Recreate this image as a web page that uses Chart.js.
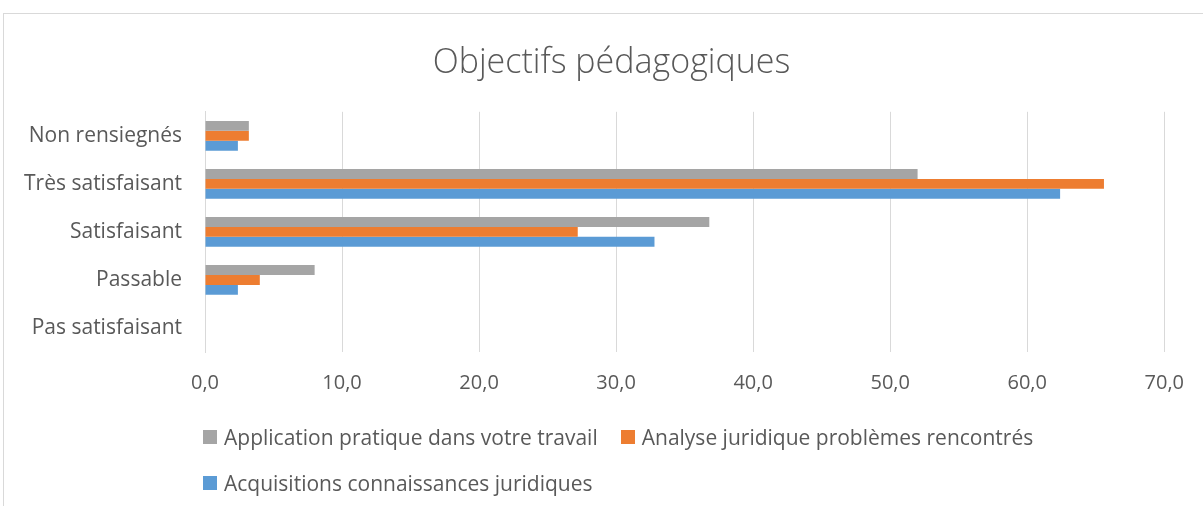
<!DOCTYPE html>
<html>

<head>
    <title>Objectifs pédagogiques</title>
    <meta charset="utf-8">
    <script src="https://cdn.jsdelivr.net/npm/chart.js@4/dist/chart.umd.min.js"></script>
    <style>
        body { margin: 0; background: #fff; font-family: "Open Sans", sans-serif; }
        #frame { position: absolute; left: 3px; top: 13px; width: 1240px; height: 540px; border: 1px solid #d9d9d9; }
        #wrap { position: absolute; left: 0; top: 0; width: 1203px; height: 506px; }
        #legend { position: absolute; left: 203px; top: 423px; width: 900px; display: flex; flex-wrap: wrap; row-gap: 19px; }
        .item { display: flex; align-items: center; height: 27px; margin-right: 23px; color: #595959; font-size: 21px; white-space: nowrap; }
        .box { width: 14px; height: 14px; margin-right: 7px; }
    </style>
    <script>
        // categories, top to bottom
        var categories = ["Non rensiegnés", "Très satisfaisant", "Satisfaisant", "Passable", "Pas satisfaisant"];
        var seriesNames = ["Application pratique dans votre travail", "Analyse juridique problèmes rencontrés", "Acquisitions connaissances juridiques"];
        var application = [3.2, 52.0, 36.8, 8.0, 0];
        var analyse = [3.2, 65.6, 27.2, 4.0, 0];
        var acquisitions = [2.4, 62.4, 32.8, 2.4, 0];
        var xTicks = [0, 10, 20, 30, 40, 50, 60, 70];
        var colors = ["#a5a5a5", "#ed7d31", "#5b9bd5"];
    </script>
</head>

<body>
    <div id="frame"></div>
    <div id="wrap"><canvas id="myChart"></canvas></div>
    <div id="legend"></div>
    <script>
        var textColor = "#595959";
        var gridColor = "#d9d9d9";
        var values = [application, analyse, acquisitions];

        // center the title on the whole frame, not only the padded box
        var titleShift = {
            id: "titleShift",
            afterLayout: function(chart) {
                chart.titleBlock.left = 20;
                chart.titleBlock.right = chart.width;
            }
        };

        var ctx = document.getElementById("myChart");
        var chart = new Chart(ctx, {
            type: "bar",
            plugins: [titleShift],
            data: {
                labels: categories,
                datasets: values.map(function(v, i) {
                    return {
                        label: seriesNames[i],
                        data: v,
                        backgroundColor: colors[i],
                        categoryPercentage: 0.62,
                        barPercentage: 1.0
                    };
                })
            },
            options: {
                indexAxis: "y",
                responsive: true,
                maintainAspectRatio: false,
                animation: false,
                layout: { padding: { left: 0, right: 38, top: 0, bottom: 114 } },
                plugins: {
                    legend: { display: false },
                    tooltip: { enabled: false },
                    title: {
                        display: true,
                        text: "Objectifs pédagogiques",
                        color: textColor,
                        font: { family: "Open Sans", size: 34, weight: "300" },
                        padding: { top: 43, bottom: 28 }
                    }
                },
                scales: {
                    x: {
                        min: 0,
                        max: 70,
                        afterBuildTicks: function(scale) {
                            scale.ticks = xTicks.map(function(v) { return { value: v }; });
                        },
                        afterFit: function(scale) { scale.height = 40; },
                        grid: { color: gridColor, drawTicks: false },
                        border: { display: false },
                        ticks: {
                            color: textColor,
                            padding: 19,
                            font: { family: "Open Sans", size: 20 },
                            callback: function(v) { return v.toFixed(1).replace(".", ","); }
                        }
                    },
                    y: {
                        afterFit: function(scale) { scale.width = 205; },
                        grid: { display: false, drawTicks: false },
                        border: { color: gridColor },
                        ticks: {
                            color: textColor,
                            padding: 23,
                            font: { family: "Open Sans", size: 21 }
                        }
                    }
                }
            }
        });

        // legend as html, left aligned like the original
        var legend = document.getElementById("legend");
        chart.data.datasets.forEach(function(ds) {
            var item = document.createElement("div");
            item.className = "item";
            var box = document.createElement("span");
            box.className = "box";
            box.style.background = ds.backgroundColor;
            item.appendChild(box);
            item.appendChild(document.createTextNode(ds.label));
            legend.appendChild(item);
        });
    </script>
</body>

</html>
